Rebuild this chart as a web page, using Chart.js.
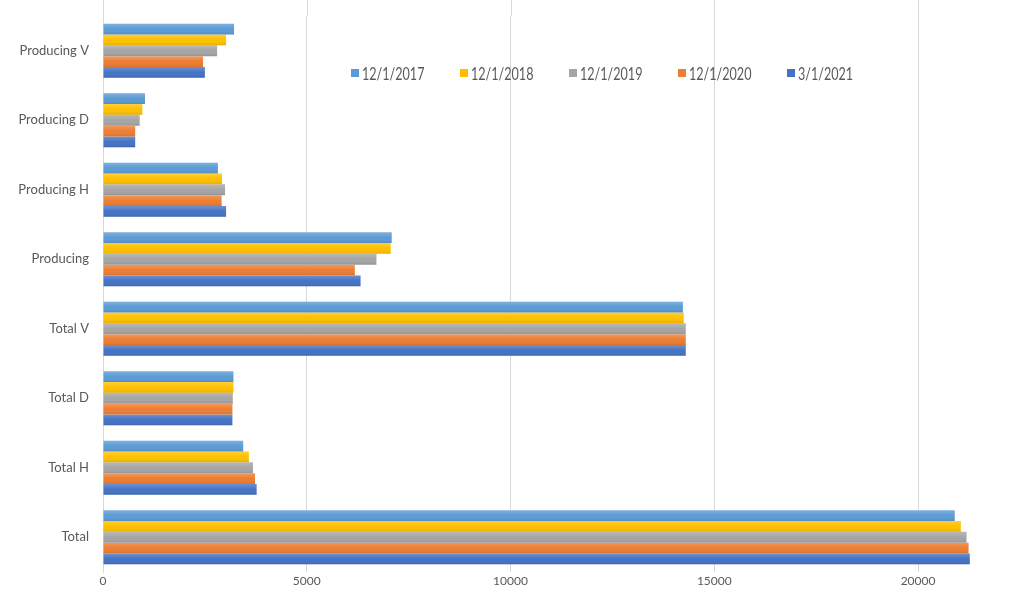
<!DOCTYPE html>
<html>
<head>
<meta charset="utf-8">
<script src="https://cdn.jsdelivr.net/npm/chart.js@4.4.1/dist/chart.umd.min.js"></script>
<style>
  html, body { margin: 0; padding: 0; background: #fff; }
  #wrap { position: relative; width: 1024px; height: 599px; overflow: hidden; }
  #legend { position: absolute; left: 0; top: 0; width: 1024px; height: 0; font-family: Lato, "Open Sans", sans-serif; }
  .item { position: absolute; top: 62px; height: 22px; display: flex; align-items: center; white-space: nowrap; color: #595959; font-size: 17px; }
  .sw { width: 8px; height: 8px; margin-right: 3px; display: inline-block; }
  .tx { display: inline-block; transform: scaleX(0.74); transform-origin: left center; }
</style>
</head>
<body>
<div id="wrap">
  <canvas id="c" width="1024" height="599"></canvas>
  <div id="legend"></div>
</div>
<script>
const categories = ['Producing V', 'Producing D', 'Producing H', 'Producing', 'Total V', 'Total D', 'Total H', 'Total'];
const seriesLabels = ['12/1/2017', '12/1/2018', '12/1/2019', '12/1/2020', '3/1/2021'];
const s2017 = [3215, 1030, 2820, 7085, 14230, 3200, 3440, 20900];
const s2018 = [3020, 965, 2920, 7060, 14250, 3200, 3580, 21050];
const s2019 = [2800, 900, 2995, 6710, 14300, 3185, 3680, 21190];
const s2020 = [2455, 790, 2910, 6180, 14300, 3175, 3730, 21240];
const s2021 = [2500, 790, 3020, 6320, 14300, 3175, 3770, 21270];
const xTicks = [0, 5000, 10000, 15000, 20000];
const xMax = 22600;

const colors = ['#5B9BD5', '#FFC000', '#A5A5A5', '#ED7D31', '#4472C4'];
const seriesValues = [s2017, s2018, s2019, s2020, s2021];

const datasets = seriesValues.map((vals, i) => ({
  label: seriesLabels[i],
  data: vals,
  backgroundColor: colors[i],
  borderWidth: 0,
  categoryPercentage: 0.78,
  barPercentage: 1.0
}));

const shadePlugin = {
  id: 'shade',
  afterDatasetsDraw(chart) {
    const ctx = chart.ctx;
    chart.data.datasets.forEach((ds, di) => {
      const meta = chart.getDatasetMeta(di);
      meta.data.forEach(bar => {
        const top = bar.y - bar.height / 2;
        const h = bar.height;
        const left = Math.min(bar.base, bar.x);
        const w = Math.abs(bar.x - bar.base);
        const g = ctx.createLinearGradient(0, top, 0, top + h);
        g.addColorStop(0, 'rgba(255,255,255,0.22)');
        g.addColorStop(0.5, 'rgba(255,255,255,0)');
        g.addColorStop(1, 'rgba(0,0,0,0.10)');
        ctx.save();
        ctx.fillStyle = g;
        ctx.fillRect(left, top, w, h);
        ctx.restore();
      });
    });
  }
};

const gridExtend = {
  id: 'gridExtend',
  beforeDatasetsDraw(chart) {
    const ctx = chart.ctx;
    const xs = chart.scales.x;
    const top = chart.chartArea.top;
    ctx.save();
    ctx.strokeStyle = '#D9D9D9';
    ctx.lineWidth = 1;
    xs.ticks.forEach(t => {
      const px = Math.round(xs.getPixelForValue(t.value)) + 0.5;
      ctx.beginPath();
      ctx.moveTo(px, 0);
      ctx.lineTo(px, top);
      ctx.stroke();
    });
    ctx.restore();
  }
};

const chart = new Chart(document.getElementById('c'), {
  type: 'bar',
  data: { labels: categories, datasets },
  plugins: [shadePlugin, gridExtend],
  options: {
    indexAxis: 'y',
    responsive: false,
    animation: false,
    layout: { padding: { top: 16, right: 0, left: 0, bottom: 0 } },
    plugins: { legend: { display: false }, tooltip: { enabled: false } },
    scales: {
      x: {
        type: 'linear',
        min: 0,
        max: xMax,
        afterBuildTicks(axis) { axis.ticks = xTicks.map(v => ({ value: v })); },
        afterFit(scale) { scale.height = 27; },
        ticks: {
          color: '#595959',
          font: { family: 'Lato', size: 12 },
          padding: 2,
          maxRotation: 0,
          autoSkip: false,
          callback: (v) => String(v)
        },
        grid: { color: '#D9D9D9', drawTicks: false, lineWidth: 1 },
        border: { display: false }
      },
      y: {
        afterFit(scale) {
          scale.width = 103;
          scale.paddingTop = 0;
          scale.paddingBottom = 0;
        },
        ticks: {
          color: '#595959',
          font: { family: 'Lato', size: 13 },
          padding: 14
        },
        grid: { display: false, drawTicks: false },
        border: { display: true, color: '#D9D9D9', width: 1 }
      }
    }
  }
});

// HTML legend built from the datasets
const legend = document.getElementById('legend');
const legendLeft = 351, legendStep = 109;
chart.data.datasets.forEach((ds, i) => {
  const it = document.createElement('div');
  it.className = 'item';
  it.style.left = (legendLeft + i * legendStep) + 'px';
  const sw = document.createElement('span');
  sw.className = 'sw';
  sw.style.background = ds.backgroundColor;
  const tx = document.createElement('span');
  tx.className = 'tx';
  tx.textContent = ds.label;
  it.appendChild(sw);
  it.appendChild(tx);
  legend.appendChild(it);
});
</script>
</body>
</html>
